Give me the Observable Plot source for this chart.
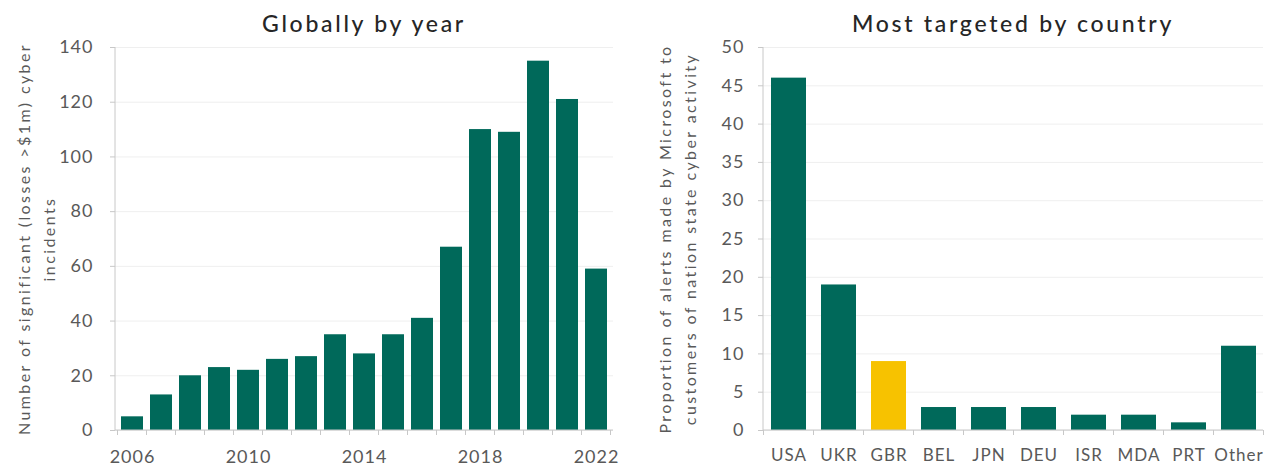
<!DOCTYPE html>
<html><head><meta charset="utf-8">
<script src="https://cdn.jsdelivr.net/npm/d3@7"></script>
<script src="https://cdn.jsdelivr.net/npm/@observablehq/plot@0.6"></script>
<style>
body{margin:0;background:#fff;font-family:Lato,"Open Sans",sans-serif;}
#wrap{position:relative;width:1276px;height:472px;overflow:hidden;background:#fff}
.title{position:absolute;top:9px;font-size:23px;color:#262626;text-align:center;font-weight:500;letter-spacing:2.7px;white-space:nowrap}
.panel{position:absolute;top:0}
</style></head><body>
<div id="wrap">
<div class="title" style="left:115px;width:498px">Globally by year</div>
<div class="title" style="left:763px;width:500px">Most targeted by country</div>
<div id="left" class="panel" style="left:0"></div>
<div id="right" class="panel" style="left:630px"></div>
</div>
<script>
const years = [2006,2007,2008,2009,2010,2011,2012,2013,2014,2015,2016,2017,2018,2019,2020,2021,2022];
const incidents = [5,13,20,23,22,26,27,35,28,35,41,67,110,109,135,121,59];
const yearTicks = [2006,2010,2014,2018,2022];
const incidentTicks = [0,20,40,60,80,100,120,140];
const leftLabel = "Number of significant (losses >$1m) cyber\nincidents";

const countries = ["USA","UKR","GBR","BEL","JPN","DEU","ISR","MDA","PRT","Other"];
const shares = [46,19,9,3,3,3,2,2,1,11];
const shareTicks = [0,5,10,15,20,25,30,35,40,45,50];
const highlighted = "GBR";
const rightLabel = "Proportion of alerts made by Microsoft to\ncustomers of nation state cyber activity";

const TEAL = "#00695a", GOLD = "#f7c200", AXIS = "#c8c8c8", GRID = "#efefef", TXT = "#595959";
const FONT = "Lato, 'Open Sans', sans-serif";

// axis lines + between-category ticks (Excel style)
function frameAxes(){
  return (index, scales, values, dims) => {
    const g = d3.create("svg:g");
    const x = scales.x, dom = x.domain();
    const bw = typeof x.bandwidth === "function" ? x.bandwidth() : x.bandwidth;
    const step = dom.length > 1 ? x(dom[1]) - x(dom[0]) : bw;
    const yb = dims.height - dims.marginBottom;
    g.append("line").attr("x1", dims.marginLeft).attr("x2", dims.marginLeft)
      .attr("y1", dims.marginTop).attr("y2", yb).attr("stroke", AXIS);
    g.append("line").attr("x1", dims.marginLeft).attr("x2", dims.width - dims.marginRight)
      .attr("y1", yb).attr("y2", yb).attr("stroke", AXIS);
    dom.forEach((d) => {
      const bx = x(d) - (step - bw) / 2;
      g.append("line").attr("x1", bx).attr("x2", bx).attr("y1", yb).attr("y2", yb + 5).attr("stroke", AXIS);
    });
    const last = x(dom[dom.length-1]) + bw + (step - bw)/2;
    g.append("line").attr("x1", last).attr("x2", last).attr("y1", yb).attr("y2", yb + 5).attr("stroke", AXIS);
    return g.node();
  };
}

function spaceLabel(svg){
  d3.select(svg).selectAll("g[aria-label='text'] text").style("letter-spacing", "2.4px");
  return svg;
}

const yearData = years.map((y, i) => ({year: y, value: incidents[i]}));
const left = Plot.plot({
  width: 630, height: 472,
  marginLeft: 115, marginRight: 17, marginTop: 47, marginBottom: 42,
  style: {fontFamily: FONT, fontSize: "18px", color: TXT, background: "transparent", letterSpacing: "1px"},
  x: {type: "band", domain: years, paddingInner: 0.25, paddingOuter: 0.125, label: null},
  y: {domain: [0, 140], label: null},
  marks: [
    Plot.gridY(incidentTicks, {stroke: GRID, strokeOpacity: 1}),
    Plot.barY(yearData, {x: "year", y: "value", fill: TEAL}),
    Plot.axisY(incidentTicks, {tickSize: 5, tickPadding: 17, fontSize: 18, fill: TXT, stroke: AXIS, label: null}),
    Plot.axisX(yearTicks, {tickSize: 0, tickPadding: 20, fontSize: 18, fill: TXT, tickFormat: d => String(d), label: null}),
    Plot.text([leftLabel], {frameAnchor: "left", textAnchor: "middle", rotate: -90, dx: -81, fontSize: 16, fill: TXT, lineHeight: 1.56}),
    frameAxes()
  ]
});
document.getElementById("left").appendChild(spaceLabel(left));

const countryData = countries.map((c, i) => ({country: c, value: shares[i], hi: c === highlighted}));
const right = Plot.plot({
  width: 646, height: 472,
  marginLeft: 133, marginRight: 13, marginTop: 47, marginBottom: 42,
  style: {fontFamily: FONT, fontSize: "18px", color: TXT, background: "transparent", letterSpacing: "1px"},
  x: {type: "band", domain: countries, paddingInner: 0.3, paddingOuter: 0.15, label: null},
  y: {domain: [0, 50], label: null},
  marks: [
    Plot.gridY(shareTicks, {stroke: GRID, strokeOpacity: 1}),
    Plot.barY(countryData, {x: "country", y: "value", fill: d => d.hi ? GOLD : TEAL}),
    Plot.axisY(shareTicks, {tickSize: 5, tickPadding: 14, fontSize: 18, fill: TXT, stroke: AXIS, label: null}),
    Plot.axisX({tickSize: 0, tickPadding: 18, fontSize: 17, fill: TXT, label: null}),
    Plot.text([rightLabel], {frameAnchor: "left", textAnchor: "middle", rotate: -90, dx: -88, fontSize: 16, fill: TXT, lineHeight: 1.56}),
    frameAxes()
  ]
});
document.getElementById("right").appendChild(spaceLabel(right));
</script>
</body></html>
